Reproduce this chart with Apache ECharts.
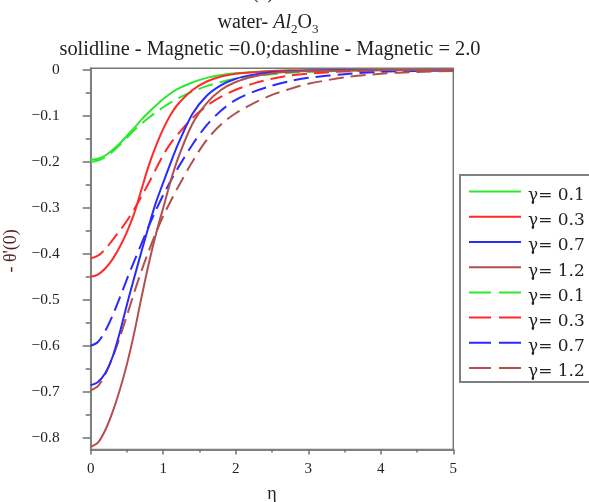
<!DOCTYPE html>
<html>
<head>
<meta charset="utf-8">
<script src="https://cdn.jsdelivr.net/npm/echarts@6/dist/echarts.min.js"></script>
<style>
  html, body { margin: 0; padding: 0; background: #ffffff; }
  #chart { width: 589px; height: 502px; }
</style>
</head>
<body>
<div id="chart"></div>
<script>
// eta grid shared by every profile
const eta = [0, 0.1, 0.2, 0.3, 0.4, 0.5, 0.6, 0.7, 0.8, 0.9, 1.0, 1.1, 1.2, 1.4, 1.6, 1.8, 2.0, 2.25, 2.5, 2.75, 3, 3.5, 4, 4.5, 5];

// Magnetic = 0.0 (solid lines)
const m0g01 = [-0.195, -0.193, -0.186, -0.174, -0.160, -0.143, -0.126, -0.108, -0.092, -0.077, -0.063, -0.051, -0.041, -0.027, -0.017, -0.011, -0.007, -0.004, -0.002, -0.001, -0.001, 0, 0, 0, 0];
const m0g03 = [-0.450, -0.445, -0.432, -0.412, -0.385, -0.352, -0.312, -0.260, -0.208, -0.165, -0.128, -0.098, -0.075, -0.044, -0.025, -0.014, -0.008, -0.005, -0.002, -0.001, -0.001, 0, 0, 0, 0];
const m0g07 = [-0.686, -0.679, -0.660, -0.625, -0.572, -0.510, -0.452, -0.395, -0.340, -0.288, -0.245, -0.203, -0.163, -0.096, -0.056, -0.033, -0.019, -0.010, -0.005, -0.003, -0.001, 0, 0, 0, 0];
const m0g12 = [-0.820, -0.811, -0.784, -0.745, -0.697, -0.640, -0.572, -0.495, -0.422, -0.357, -0.300, -0.243, -0.194, -0.118, -0.072, -0.043, -0.026, -0.014, -0.007, -0.004, -0.002, -0.001, 0, 0, 0];

// Magnetic = 2.0 (dashed lines)
const m2g01 = [-0.200, -0.197, -0.190, -0.178, -0.163, -0.147, -0.131, -0.117, -0.104, -0.092, -0.081, -0.071, -0.062, -0.047, -0.035, -0.026, -0.019, -0.013, -0.009, -0.006, -0.004, -0.002, -0.001, 0, 0];
const m2g03 = [-0.410, -0.404, -0.390, -0.370, -0.350, -0.328, -0.303, -0.275, -0.246, -0.215, -0.185, -0.160, -0.140, -0.105, -0.078, -0.058, -0.043, -0.029, -0.019, -0.012, -0.008, -0.003, -0.001, 0, 0];
const m2g07 = [-0.600, -0.592, -0.568, -0.535, -0.496, -0.455, -0.416, -0.378, -0.340, -0.305, -0.272, -0.242, -0.214, -0.163, -0.120, -0.088, -0.065, -0.047, -0.034, -0.024, -0.017, -0.009, -0.004, -0.002, -0.001];
const m2g12 = [-0.697, -0.688, -0.662, -0.626, -0.582, -0.534, -0.484, -0.437, -0.394, -0.354, -0.318, -0.286, -0.256, -0.200, -0.152, -0.118, -0.094, -0.072, -0.054, -0.041, -0.030, -0.016, -0.008, -0.004, -0.002];

const gammaLabels = ['γ= 0.1', 'γ= 0.3', 'γ= 0.7', 'γ= 1.2', 'γ= 0.1', 'γ= 0.3', 'γ= 0.7', 'γ= 1.2'];
const seriesKeys = ['M0 g0.1', 'M0 g0.3', 'M0 g0.7', 'M0 g1.2', 'M2 g0.1', 'M2 g0.3', 'M2 g0.7', 'M2 g1.2'];
const profiles = [m0g01, m0g03, m0g07, m0g12, m2g01, m2g03, m2g07, m2g12];

const xTicks = [0, 1, 2, 3, 4, 5];
const yTicks = [0, -0.1, -0.2, -0.3, -0.4, -0.5, -0.6, -0.7, -0.8];
const yMinorTicks = [-0.05, -0.15, -0.25, -0.35, -0.45, -0.55, -0.65, -0.75];

const colors = ['#2ee82e', '#ff2a2a', '#2a2aff', '#b24f4f'];
const serif = 'Liberation Serif';
const textColor = '#222222';
const Y_MIN = -0.826, Y_MAX = 0.004;

const labelOf = {};
seriesKeys.forEach((k, i) => { labelOf[k] = gammaLabels[i]; });

const series = profiles.map((vals, i) => ({
  name: seriesKeys[i],
  type: 'line',
  xAxisIndex: 0,
  yAxisIndex: 0,
  symbol: 'none',
  showSymbol: false,
  smooth: 0.3,
  z: i < 4 ? 3 : 2,
  lineStyle: {
    color: colors[i % 4],
    width: 2,
    type: i < 4 ? 'solid' : [15, 7]
  },
  itemStyle: { color: colors[i % 4] },
  data: eta.map((x, j) => [x, vals[j]])
}));

const chart = echarts.init(document.getElementById('chart'), null, { renderer: 'canvas' });

chart.setOption({
  backgroundColor: '#ffffff',
  animation: false,
  grid: {
    left: 90.7, right: 135.7, top: 68.2, bottom: 52.4,
    outerBoundsMode: 'none',
    containLabel: false,
    show: true, borderColor: '#777777', borderWidth: 1.5, backgroundColor: 'transparent'
  },
  graphic: [
    {
      type: 'text', x: 263, y: -17,
      style: { text: '(a)', font: '20px "Liberation Serif"', fill: textColor, align: 'center', verticalAlign: 'top' }
    },
    {
      type: 'text', x: 268, y: 9,
      style: {
        text: '{n|water- }{i|Al}{s|2}{n|O}{s|3}',
        align: 'center', verticalAlign: 'top',
        rich: {
          n: { fontSize: 20, fontFamily: serif, fill: textColor, color: textColor },
          i: { fontSize: 20, fontFamily: serif, fontStyle: 'italic', fill: textColor, color: textColor },
          s: { fontSize: 13, fontFamily: serif, fill: textColor, color: textColor, padding: [14, 0, 0, 0] }
        }
      }
    },
    {
      type: 'text', x: 270, y: 50,
      style: {
        text: 'solidline - Magnetic =0.0;dashline - Magnetic = 2.0',
        font: '20.4px "Liberation Serif"', fill: textColor, align: 'center', verticalAlign: 'middle'
      }
    }
  ],
  legend: {
    orient: 'vertical',
    left: 460, top: 175,
    padding: [11, 30, 1.5, 8],
    itemWidth: 52, itemHeight: 14, itemGap: 7.1,
    backgroundColor: '#ffffff',
    borderColor: '#808080', borderWidth: 2,
    selectedMode: false,
    formatter: name => '{t|' + labelOf[name] + '}',
    textStyle: {
      fontFamily: 'DejaVu Serif', fontSize: 17, color: textColor,
      rich: { t: { fontFamily: 'DejaVu Serif', fontSize: 17, color: textColor, padding: [8, 0, 0, 2] } }
    },
    itemStyle: { opacity: 0 },
    data: seriesKeys.map((k, i) => ({
      name: k,
      lineStyle: { color: colors[i % 4], width: 2, type: i < 4 ? 'solid' : [22, 8] },
      itemStyle: { opacity: 0 }
    }))
  },
  xAxis: {
    type: 'value', min: 0, max: 5, interval: 1,
    name: 'η', nameLocation: 'middle', nameGap: 36,
    nameTextStyle: { fontFamily: serif, fontSize: 18, color: textColor },
    axisLine: { show: true, onZero: false, lineStyle: { color: '#808080', width: 2 } },
    axisTick: { show: true, length: 5, lineStyle: { color: '#707070', width: 1.5 } },
    minorTick: { show: true, splitNumber: 2, length: 3, lineStyle: { color: '#707070', width: 1.5 } },
    axisLabel: {
      margin: 12, fontFamily: serif, fontSize: 15, color: textColor,
      customValues: xTicks, formatter: v => String(v)
    },
    splitLine: { show: false }, minorSplitLine: { show: false }
  },
  yAxis: [
    {
      type: 'value', min: Y_MIN, max: Y_MAX, position: 'left',
      name: "- θ'(0)", nameLocation: 'middle', nameGap: 62, nameRotate: 90,
      nameTextStyle: { fontFamily: serif, fontSize: 18, color: '#5a2020', padding: [0, 0, 0, 16] },
      axisLine: { show: true, onZero: false, lineStyle: { color: '#808080', width: 2 } },
      axisTick: { show: true, length: 8, customValues: yTicks, lineStyle: { color: '#707070', width: 1.5 } },
      axisLabel: {
        customValues: yTicks, margin: 31, fontFamily: serif, fontSize: 15.5, color: textColor,
        formatter: v => (Math.abs(v) < 1e-9 ? '0' : '\u2212' + Math.abs(v).toFixed(1))
      },
      splitLine: { show: false }
    },
    {
      type: 'value', min: Y_MIN, max: Y_MAX, position: 'left', offset: 0,
      axisLine: { show: false },
      axisTick: { show: true, length: 5, customValues: yMinorTicks, lineStyle: { color: '#707070', width: 1.5 } },
      axisLabel: { show: false },
      splitLine: { show: false }
    }
  ],
  series: series
});
</script>
</body>
</html>
